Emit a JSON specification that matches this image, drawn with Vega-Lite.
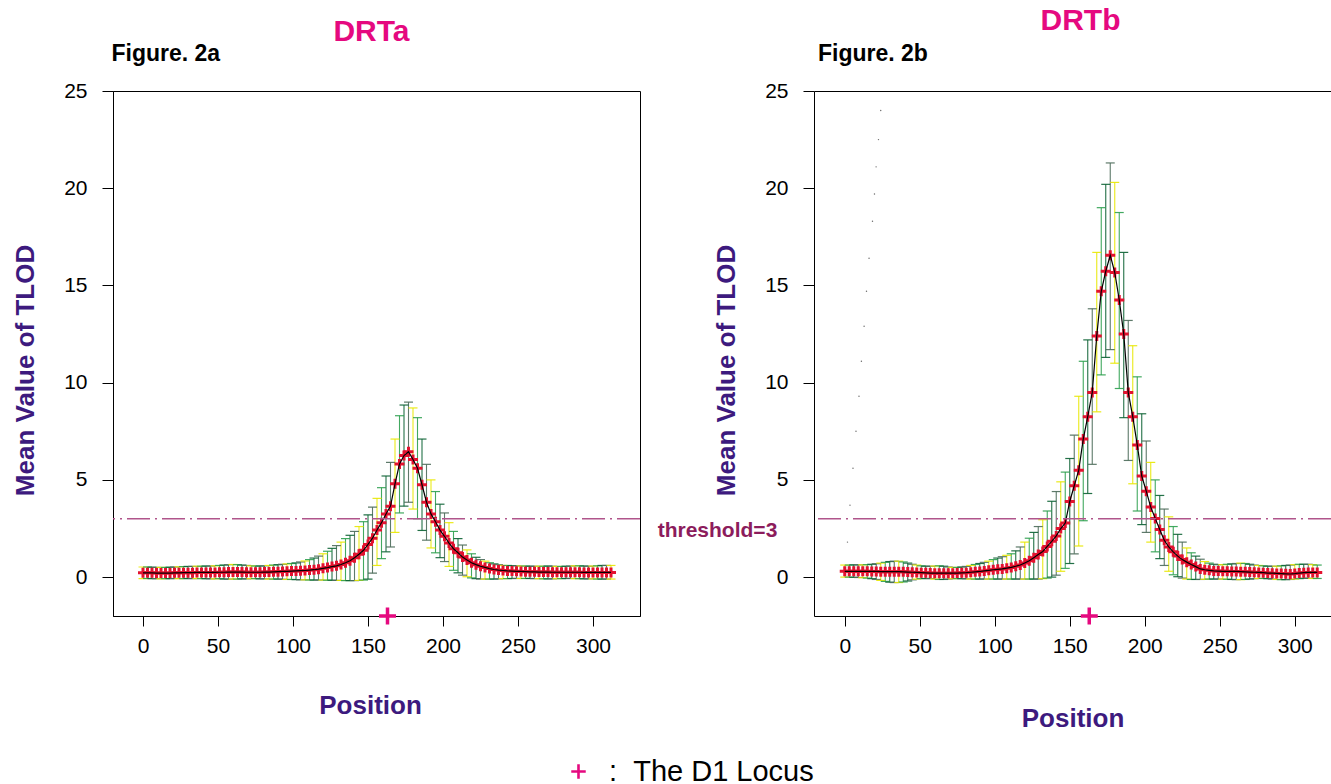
{
"$schema": "https://vega.github.io/schema/vega-lite/v6.json",
"background": "white",
"padding": {"left": 11, "top": 5, "right": 0, "bottom": 0},
"bounds": "flush",
"spacing": 174,
"config": {
  "font": "Liberation Sans",
  "view": {"stroke": null},
  "axis": {"grid": false, "domainColor": "#000", "tickColor": "#000", "labelColor": "#000", "labelFontSize": 21, "labelFont": "Liberation Sans", "titleFont": "Liberation Sans", "titleFontSize": 26, "titleFontWeight": "bold", "titleColor": "#3d1a7e", "domainWidth": 1, "tickWidth": 1, "labelFlush": false, "labelOverlap": false}
},
"resolve": {"scale": {"x": "independent", "y": "independent", "color": "shared", "stroke": "shared", "fill": "shared"}, "legend": {"color": "shared"}},
"datasets": {
"drta": [
{"p":0,"m":0.22,"lo":-0.08,"hi":0.52,"s":"a"},{"p":3,"m":0.22,"lo":-0.07,"hi":0.52,"s":"b"},{"p":6,"m":0.22,"lo":-0.08,"hi":0.51,"s":"c"},{"p":9,"m":0.21,"lo":-0.08,"hi":0.5,"s":"d"},
{"p":12,"m":0.21,"lo":-0.09,"hi":0.5,"s":"a"},{"p":15,"m":0.21,"lo":-0.08,"hi":0.5,"s":"b"},{"p":18,"m":0.21,"lo":-0.08,"hi":0.51,"s":"c"},{"p":21,"m":0.22,"lo":-0.07,"hi":0.52,"s":"d"},
{"p":24,"m":0.22,"lo":-0.08,"hi":0.53,"s":"a"},{"p":27,"m":0.23,"lo":-0.08,"hi":0.54,"s":"b"},{"p":30,"m":0.23,"lo":-0.07,"hi":0.55,"s":"c"},{"p":33,"m":0.23,"lo":-0.08,"hi":0.55,"s":"d"},
{"p":36,"m":0.24,"lo":-0.07,"hi":0.56,"s":"a"},{"p":39,"m":0.24,"lo":-0.08,"hi":0.56,"s":"b"},{"p":42,"m":0.24,"lo":-0.08,"hi":0.57,"s":"c"},{"p":45,"m":0.24,"lo":-0.09,"hi":0.57,"s":"d"},
{"p":48,"m":0.24,"lo":-0.09,"hi":0.58,"s":"a"},{"p":51,"m":0.25,"lo":-0.08,"hi":0.6,"s":"b"},{"p":54,"m":0.25,"lo":-0.1,"hi":0.62,"s":"c"},{"p":57,"m":0.26,"lo":-0.1,"hi":0.64,"s":"d"},
{"p":60,"m":0.26,"lo":-0.1,"hi":0.65,"s":"a"},{"p":63,"m":0.26,"lo":-0.1,"hi":0.64,"s":"b"},{"p":66,"m":0.26,"lo":-0.09,"hi":0.62,"s":"c"},{"p":69,"m":0.25,"lo":-0.09,"hi":0.6,"s":"d"},
{"p":72,"m":0.25,"lo":-0.08,"hi":0.58,"s":"a"},{"p":75,"m":0.25,"lo":-0.08,"hi":0.57,"s":"b"},{"p":78,"m":0.25,"lo":-0.09,"hi":0.57,"s":"c"},{"p":81,"m":0.26,"lo":-0.09,"hi":0.58,"s":"d"},
{"p":84,"m":0.26,"lo":-0.1,"hi":0.6,"s":"a"},{"p":87,"m":0.27,"lo":-0.1,"hi":0.62,"s":"b"},{"p":90,"m":0.28,"lo":-0.1,"hi":0.64,"s":"c"},{"p":93,"m":0.29,"lo":-0.11,"hi":0.66,"s":"d"},
{"p":96,"m":0.3,"lo":-0.12,"hi":0.68,"s":"a"},{"p":99,"m":0.31,"lo":-0.12,"hi":0.7,"s":"b"},{"p":102,"m":0.32,"lo":-0.13,"hi":0.73,"s":"c"},{"p":105,"m":0.33,"lo":-0.14,"hi":0.78,"s":"d"},
{"p":108,"m":0.34,"lo":-0.14,"hi":0.83,"s":"a"},{"p":111,"m":0.36,"lo":-0.15,"hi":0.9,"s":"b"},{"p":114,"m":0.38,"lo":-0.15,"hi":0.98,"s":"c"},{"p":117,"m":0.41,"lo":-0.15,"hi":1.08,"s":"d"},
{"p":120,"m":0.45,"lo":-0.15,"hi":1.2,"s":"a"},{"p":123,"m":0.49,"lo":-0.16,"hi":1.33,"s":"b"},{"p":126,"m":0.54,"lo":-0.16,"hi":1.48,"s":"c"},{"p":129,"m":0.58,"lo":-0.17,"hi":1.62,"s":"d"},
{"p":132,"m":0.65,"lo":-0.17,"hi":1.8,"s":"a"},{"p":135,"m":0.74,"lo":-0.18,"hi":1.98,"s":"b"},{"p":138,"m":0.84,"lo":-0.18,"hi":2.15,"s":"c"},{"p":141,"m":1.0,"lo":-0.18,"hi":2.35,"s":"d"},
{"p":144,"m":1.18,"lo":-0.17,"hi":2.6,"s":"a"},{"p":147,"m":1.38,"lo":-0.15,"hi":2.85,"s":"b"},{"p":150,"m":1.68,"lo":-0.1,"hi":3.2,"s":"c"},{"p":153,"m":2.0,"lo":0.2,"hi":3.6,"s":"d"},
{"p":156,"m":2.42,"lo":0.6,"hi":4.05,"s":"a"},{"p":159,"m":2.8,"lo":0.95,"hi":4.6,"s":"b"},{"p":162,"m":3.25,"lo":1.3,"hi":5.2,"s":"c"},{"p":165,"m":3.65,"lo":1.55,"hi":5.9,"s":"d"},
{"p":168,"m":4.8,"lo":2.3,"hi":7.1,"s":"a"},{"p":171,"m":5.82,"lo":3.3,"hi":8.3,"s":"b"},{"p":174,"m":6.25,"lo":3.65,"hi":8.85,"s":"c"},{"p":177,"m":6.45,"lo":3.85,"hi":9.0,"s":"d"},
{"p":180,"m":6.05,"lo":3.5,"hi":8.7,"s":"a"},{"p":183,"m":5.6,"lo":3.0,"hi":8.2,"s":"b"},{"p":186,"m":4.75,"lo":2.4,"hi":7.1,"s":"c"},{"p":189,"m":3.85,"lo":1.9,"hi":5.8,"s":"d"},
{"p":192,"m":3.25,"lo":1.5,"hi":5.0,"s":"a"},{"p":195,"m":2.85,"lo":1.25,"hi":4.4,"s":"b"},{"p":198,"m":2.42,"lo":1.0,"hi":3.75,"s":"c"},{"p":201,"m":2.1,"lo":0.8,"hi":3.3,"s":"d"},
{"p":204,"m":1.75,"lo":0.55,"hi":2.8,"s":"a"},{"p":207,"m":1.46,"lo":0.35,"hi":2.35,"s":"b"},{"p":210,"m":1.25,"lo":0.22,"hi":1.98,"s":"c"},{"p":213,"m":1.03,"lo":0.1,"hi":1.65,"s":"d"},
{"p":216,"m":0.88,"lo":0.02,"hi":1.4,"s":"a"},{"p":219,"m":0.74,"lo":-0.04,"hi":1.2,"s":"b"},{"p":222,"m":0.64,"lo":-0.08,"hi":1.02,"s":"c"},{"p":225,"m":0.56,"lo":-0.1,"hi":0.9,"s":"d"},
{"p":228,"m":0.5,"lo":-0.1,"hi":0.82,"s":"a"},{"p":231,"m":0.44,"lo":-0.1,"hi":0.74,"s":"b"},{"p":234,"m":0.39,"lo":-0.1,"hi":0.68,"s":"c"},{"p":237,"m":0.36,"lo":-0.09,"hi":0.64,"s":"d"},
{"p":240,"m":0.34,"lo":-0.08,"hi":0.6,"s":"a"},{"p":243,"m":0.32,"lo":-0.08,"hi":0.6,"s":"b"},{"p":246,"m":0.31,"lo":-0.07,"hi":0.59,"s":"c"},{"p":249,"m":0.3,"lo":-0.07,"hi":0.58,"s":"d"},
{"p":252,"m":0.29,"lo":-0.07,"hi":0.57,"s":"a"},{"p":255,"m":0.28,"lo":-0.07,"hi":0.57,"s":"b"},{"p":258,"m":0.27,"lo":-0.07,"hi":0.56,"s":"c"},{"p":261,"m":0.27,"lo":-0.08,"hi":0.56,"s":"d"},
{"p":264,"m":0.26,"lo":-0.08,"hi":0.56,"s":"a"},{"p":267,"m":0.26,"lo":-0.09,"hi":0.56,"s":"b"},{"p":270,"m":0.26,"lo":-0.09,"hi":0.57,"s":"c"},{"p":273,"m":0.25,"lo":-0.09,"hi":0.56,"s":"d"},
{"p":276,"m":0.25,"lo":-0.08,"hi":0.55,"s":"a"},{"p":279,"m":0.25,"lo":-0.08,"hi":0.55,"s":"b"},{"p":282,"m":0.25,"lo":-0.07,"hi":0.56,"s":"c"},{"p":285,"m":0.25,"lo":-0.07,"hi":0.57,"s":"d"},
{"p":288,"m":0.25,"lo":-0.08,"hi":0.58,"s":"a"},{"p":291,"m":0.25,"lo":-0.08,"hi":0.58,"s":"b"},{"p":294,"m":0.24,"lo":-0.09,"hi":0.57,"s":"c"},{"p":297,"m":0.24,"lo":-0.09,"hi":0.56,"s":"d"},
{"p":300,"m":0.24,"lo":-0.09,"hi":0.57,"s":"a"},{"p":303,"m":0.24,"lo":-0.1,"hi":0.58,"s":"b"},{"p":306,"m":0.24,"lo":-0.1,"hi":0.6,"s":"c"},{"p":309,"m":0.24,"lo":-0.1,"hi":0.6,"s":"d"},
{"p":312,"m":0.24,"lo":-0.1,"hi":0.6,"s":"a"}
],
"drtb": [
{"p":0,"m":0.3,"lo":0.0,"hi":0.62,"s":"a"},{"p":3,"m":0.3,"lo":0.0,"hi":0.62,"s":"b"},{"p":6,"m":0.3,"lo":-0.01,"hi":0.63,"s":"c"},{"p":9,"m":0.3,"lo":-0.02,"hi":0.63,"s":"d"},
{"p":12,"m":0.3,"lo":-0.03,"hi":0.63,"s":"a"},{"p":15,"m":0.3,"lo":-0.05,"hi":0.64,"s":"b"},{"p":18,"m":0.29,"lo":-0.08,"hi":0.66,"s":"c"},{"p":21,"m":0.29,"lo":-0.12,"hi":0.69,"s":"d"},
{"p":24,"m":0.28,"lo":-0.17,"hi":0.72,"s":"a"},{"p":27,"m":0.28,"lo":-0.22,"hi":0.76,"s":"b"},{"p":30,"m":0.28,"lo":-0.26,"hi":0.8,"s":"c"},{"p":33,"m":0.28,"lo":-0.28,"hi":0.82,"s":"d"},
{"p":36,"m":0.28,"lo":-0.28,"hi":0.82,"s":"a"},{"p":39,"m":0.27,"lo":-0.25,"hi":0.78,"s":"b"},{"p":42,"m":0.26,"lo":-0.2,"hi":0.72,"s":"c"},{"p":45,"m":0.25,"lo":-0.14,"hi":0.66,"s":"d"},
{"p":48,"m":0.24,"lo":-0.1,"hi":0.62,"s":"a"},{"p":51,"m":0.23,"lo":-0.08,"hi":0.58,"s":"b"},{"p":54,"m":0.22,"lo":-0.07,"hi":0.56,"s":"c"},{"p":57,"m":0.21,"lo":-0.08,"hi":0.56,"s":"d"},
{"p":60,"m":0.2,"lo":-0.1,"hi":0.57,"s":"a"},{"p":63,"m":0.2,"lo":-0.12,"hi":0.58,"s":"b"},{"p":66,"m":0.2,"lo":-0.12,"hi":0.56,"s":"c"},{"p":69,"m":0.2,"lo":-0.1,"hi":0.52,"s":"d"},
{"p":72,"m":0.2,"lo":-0.08,"hi":0.5,"s":"a"},{"p":75,"m":0.21,"lo":-0.08,"hi":0.5,"s":"b"},{"p":78,"m":0.22,"lo":-0.08,"hi":0.52,"s":"c"},{"p":81,"m":0.23,"lo":-0.09,"hi":0.55,"s":"d"},
{"p":84,"m":0.25,"lo":-0.1,"hi":0.6,"s":"a"},{"p":87,"m":0.27,"lo":-0.1,"hi":0.65,"s":"b"},{"p":90,"m":0.29,"lo":-0.1,"hi":0.7,"s":"c"},{"p":93,"m":0.32,"lo":-0.1,"hi":0.76,"s":"d"},
{"p":96,"m":0.35,"lo":-0.1,"hi":0.82,"s":"a"},{"p":99,"m":0.38,"lo":-0.1,"hi":0.9,"s":"b"},{"p":102,"m":0.4,"lo":-0.1,"hi":0.98,"s":"c"},{"p":105,"m":0.42,"lo":-0.1,"hi":1.05,"s":"d"},
{"p":108,"m":0.46,"lo":-0.1,"hi":1.12,"s":"a"},{"p":111,"m":0.5,"lo":-0.1,"hi":1.2,"s":"b"},{"p":114,"m":0.56,"lo":-0.1,"hi":1.35,"s":"c"},{"p":117,"m":0.62,"lo":-0.1,"hi":1.55,"s":"d"},
{"p":120,"m":0.73,"lo":-0.1,"hi":1.8,"s":"a"},{"p":123,"m":0.84,"lo":-0.1,"hi":2.0,"s":"b"},{"p":126,"m":1.0,"lo":-0.1,"hi":2.3,"s":"c"},{"p":129,"m":1.16,"lo":-0.1,"hi":2.6,"s":"d"},
{"p":132,"m":1.32,"lo":-0.08,"hi":2.95,"s":"a"},{"p":135,"m":1.58,"lo":-0.05,"hi":3.4,"s":"b"},{"p":138,"m":1.84,"lo":0.0,"hi":3.9,"s":"c"},{"p":141,"m":2.12,"lo":0.1,"hi":4.4,"s":"d"},
{"p":144,"m":2.5,"lo":0.3,"hi":4.9,"s":"a"},{"p":147,"m":2.78,"lo":0.45,"hi":5.4,"s":"b"},{"p":150,"m":3.89,"lo":0.7,"hi":6.1,"s":"c"},{"p":153,"m":4.7,"lo":1.2,"hi":7.3,"s":"d"},
{"p":156,"m":5.5,"lo":1.6,"hi":9.3,"s":"a"},{"p":159,"m":7.1,"lo":2.9,"hi":11.1,"s":"b"},{"p":162,"m":8.25,"lo":4.3,"hi":12.2,"s":"c"},{"p":165,"m":9.5,"lo":5.8,"hi":13.8,"s":"d"},
{"p":168,"m":12.4,"lo":8.5,"hi":16.7,"s":"a"},{"p":171,"m":14.7,"lo":10.4,"hi":19.0,"s":"b"},{"p":174,"m":15.73,"lo":11.3,"hi":20.2,"s":"c"},{"p":177,"m":16.55,"lo":11.7,"hi":21.3,"s":"d"},
{"p":180,"m":15.67,"lo":11.0,"hi":20.3,"s":"a"},{"p":183,"m":14.25,"lo":9.7,"hi":18.75,"s":"b"},{"p":186,"m":12.5,"lo":8.2,"hi":16.7,"s":"c"},{"p":189,"m":9.5,"lo":6.0,"hi":13.2,"s":"d"},
{"p":192,"m":8.25,"lo":4.8,"hi":11.9,"s":"a"},{"p":195,"m":6.8,"lo":3.4,"hi":10.3,"s":"b"},{"p":198,"m":5.2,"lo":2.7,"hi":8.4,"s":"c"},{"p":201,"m":4.42,"lo":2.3,"hi":7.0,"s":"d"},
{"p":204,"m":3.6,"lo":1.8,"hi":5.9,"s":"a"},{"p":207,"m":3.02,"lo":1.3,"hi":5.0,"s":"b"},{"p":210,"m":2.45,"lo":0.95,"hi":4.2,"s":"c"},{"p":213,"m":1.9,"lo":0.6,"hi":3.5,"s":"d"},
{"p":216,"m":1.55,"lo":0.3,"hi":3.1,"s":"a"},{"p":219,"m":1.3,"lo":0.12,"hi":2.6,"s":"b"},{"p":222,"m":1.08,"lo":0.02,"hi":2.2,"s":"c"},{"p":225,"m":0.9,"lo":-0.05,"hi":1.8,"s":"d"},
{"p":228,"m":0.77,"lo":-0.1,"hi":1.5,"s":"a"},{"p":231,"m":0.65,"lo":-0.12,"hi":1.25,"s":"b"},{"p":234,"m":0.54,"lo":-0.12,"hi":1.08,"s":"c"},{"p":237,"m":0.42,"lo":-0.12,"hi":0.92,"s":"d"},
{"p":240,"m":0.38,"lo":-0.11,"hi":0.8,"s":"a"},{"p":243,"m":0.35,"lo":-0.1,"hi":0.72,"s":"b"},{"p":246,"m":0.32,"lo":-0.1,"hi":0.66,"s":"c"},{"p":249,"m":0.31,"lo":-0.1,"hi":0.64,"s":"d"},
{"p":252,"m":0.3,"lo":-0.1,"hi":0.64,"s":"a"},{"p":255,"m":0.3,"lo":-0.11,"hi":0.66,"s":"b"},{"p":258,"m":0.29,"lo":-0.12,"hi":0.68,"s":"c"},{"p":261,"m":0.29,"lo":-0.13,"hi":0.7,"s":"d"},
{"p":264,"m":0.28,"lo":-0.13,"hi":0.72,"s":"a"},{"p":267,"m":0.27,"lo":-0.12,"hi":0.7,"s":"b"},{"p":270,"m":0.26,"lo":-0.1,"hi":0.66,"s":"c"},{"p":273,"m":0.25,"lo":-0.08,"hi":0.62,"s":"d"},
{"p":276,"m":0.24,"lo":-0.07,"hi":0.6,"s":"a"},{"p":279,"m":0.23,"lo":-0.07,"hi":0.58,"s":"b"},{"p":282,"m":0.21,"lo":-0.08,"hi":0.56,"s":"c"},{"p":285,"m":0.2,"lo":-0.1,"hi":0.56,"s":"d"},
{"p":288,"m":0.19,"lo":-0.12,"hi":0.56,"s":"a"},{"p":291,"m":0.18,"lo":-0.13,"hi":0.58,"s":"b"},{"p":294,"m":0.17,"lo":-0.13,"hi":0.6,"s":"c"},{"p":297,"m":0.16,"lo":-0.12,"hi":0.62,"s":"d"},
{"p":300,"m":0.18,"lo":-0.1,"hi":0.64,"s":"a"},{"p":303,"m":0.21,"lo":-0.08,"hi":0.66,"s":"b"},{"p":306,"m":0.23,"lo":-0.06,"hi":0.66,"s":"c"},{"p":309,"m":0.24,"lo":-0.06,"hi":0.66,"s":"d"},
{"p":312,"m":0.24,"lo":-0.07,"hi":0.64,"s":"a"},{"p":315,"m":0.24,"lo":-0.07,"hi":0.62,"s":"b"}
],
"stray": [
{"p":1.8,"v":1.8},{"p":3.5,"v":3.7},{"p":5.5,"v":5.6},{"p":7.5,"v":7.5},{"p":9.5,"v":9.3},{"p":11.1,"v":11.1},{"p":12.9,"v":12.9},
{"p":14.5,"v":14.7},{"p":16.2,"v":16.4},{"p":18.5,"v":18.3},{"p":19.8,"v":19.7},{"p":20.9,"v":21.1},{"p":22.5,"v":22.5},{"p":24.0,"v":24.0}
],
"thr": [{"t": 3}],
"thrlabel": [{"label": "threshold=3", "p": 383, "v": 2.36}],
"locus": [{"p": 163, "v": -2, "marker": "The D1 Locus"}]
},
"hconcat": [
{
 "width": 527, "height": 525,
 "view": {"stroke": "#000", "strokeWidth": 1},
 "title": {"text": "DRTa", "color": "#e5097f", "fontSize": 30, "fontWeight": "bold", "font": "Liberation Sans", "anchor": "middle", "offset": -5, "dx": -5},
 "resolve": {"axis": {"x": "independent", "y": "independent"}},
 "layer": [
  {"data": {"name": "drta"}, "mark": {"type": "rule", "strokeWidth": 1.1, "opacity": 0.9},
   "encoding": {
    "x": {"field": "p", "type": "quantitative", "scale": {"domain": [-20, 331.33], "nice": false, "zero": false},
          "axis": {"orient": "bottom", "values": [0,50,100,150,200,250,300], "title": "Position", "tickSize": 10, "labelPadding": 9, "minExtent": 40, "maxExtent": 40, "titlePadding": 36, "titleX": 257}},
    "y": {"field": "lo", "type": "quantitative", "scale": {"domain": [-2, 25], "nice": false, "zero": false},
          "axis": {"orient": "left", "values": [0,5,10,15,20,25], "title": "Mean Value of TLOD", "tickSize": 11, "labelPadding": 15, "minExtent": 49, "maxExtent": 49, "titlePadding": 26, "titleY": 279}},
    "y2": {"field": "hi"},
    "stroke": {"field": "s", "type": "nominal", "scale": {"domain": ["a","b","c","d"], "range": ["#e8e800","#2ea04f","#0b6233","#4d6b5a"]}, "legend": null}
   }},
  {"data": {"name": "drta"}, "mark": {"type": "tick", "orient": "horizontal", "thickness": 1.2, "opacity": 0.9},
   "encoding": {
    "x": {"field": "p", "type": "quantitative", "scale": {"domain": [-20, 331.33], "nice": false, "zero": false}, "axis": null},
    "y": {"field": "hi", "type": "quantitative", "scale": {"domain": [-2, 25], "nice": false, "zero": false}, "axis": null},
    "size": {"value": 9},
    "fill": {"field": "s", "type": "nominal", "scale": {"domain": ["a","b","c","d"], "range": ["#e8e800","#2ea04f","#0b6233","#4d6b5a"]}, "legend": null}
   }},
  {"data": {"name": "drta"}, "mark": {"type": "tick", "orient": "horizontal", "thickness": 1.2, "opacity": 0.9},
   "encoding": {
    "x": {"field": "p", "type": "quantitative", "scale": {"domain": [-20, 331.33], "nice": false, "zero": false}, "axis": null},
    "y": {"field": "lo", "type": "quantitative", "scale": {"domain": [-2, 25], "nice": false, "zero": false}, "axis": null},
    "size": {"value": 9},
    "fill": {"field": "s", "type": "nominal", "scale": {"domain": ["a","b","c","d"], "range": ["#e8e800","#2ea04f","#0b6233","#4d6b5a"]}, "legend": null}
   }},
  {"data": {"name": "drta"}, "mark": {"type": "point", "shape": "M-1,0L1,0M0,-1L0,1", "filled": false, "size": 100, "strokeWidth": 3, "color": "#e3122f", "opacity": 1},
   "encoding": {
    "x": {"field": "p", "type": "quantitative", "scale": {"domain": [-20, 331.33], "nice": false, "zero": false}, "axis": null},
    "y": {"field": "m", "type": "quantitative", "scale": {"domain": [-2, 25], "nice": false, "zero": false}, "axis": null}
   }},
  {"data": {"name": "drta"}, "mark": {"type": "line", "color": "#000", "strokeWidth": 1.2},
   "encoding": {
    "x": {"field": "p", "type": "quantitative", "scale": {"domain": [-20, 331.33], "nice": false, "zero": false}, "axis": null},
    "y": {"field": "m", "type": "quantitative", "scale": {"domain": [-2, 25], "nice": false, "zero": false}, "axis": null}
   }},
  {"data": {"name": "thr"}, "mark": {"type": "rule", "color": "#b0558b", "strokeWidth": 1.4, "strokeDash": [23, 5, 2, 5]},
   "encoding": {
    "y": {"field": "t", "type": "quantitative", "scale": {"domain": [-2, 25], "nice": false, "zero": false}, "axis": null}
   }},
  {"data": {"name": "thrlabel"}, "mark": {"type": "text", "fontSize": 21, "fontWeight": "bold", "color": "#8c1c5c", "align": "center", "baseline": "middle", "font": "Liberation Sans"},
   "encoding": {
    "x": {"field": "p", "type": "quantitative", "scale": {"domain": [-20, 331.33], "nice": false, "zero": false}, "axis": null},
    "y": {"field": "v", "type": "quantitative", "scale": {"domain": [-2, 25], "nice": false, "zero": false}, "axis": null},
    "text": {"field": "label"}
   }},
  {"data": {"name": "locus"}, "mark": {"type": "point", "shape": "M-1,0L1,0M0,-1L0,1", "filled": false, "size": 289, "strokeWidth": 3.5, "opacity": 1},
   "encoding": {
    "x": {"field": "p", "type": "quantitative", "scale": {"domain": [-20, 331.33], "nice": false, "zero": false},
          "axis": {"orient": "top", "labels": false, "ticks": false, "domain": false, "title": "Figure. 2a", "titleFontSize": 23, "titleColor": "#000", "titleAlign": "left", "titleX": -2, "titlePadding": 26, "minExtent": 0, "maxExtent": 0}},
    "y": {"field": "v", "type": "quantitative", "scale": {"domain": [-2, 25], "nice": false, "zero": false}, "axis": null},
    "color": {"field": "marker", "type": "nominal", "scale": {"domain": ["The D1 Locus"], "range": ["#e5097f"]},
              "legend": {"orient": "none", "legendX": 451, "legendY": 666, "title": null, "symbolType": "M-1,0L1,0M0,-1L0,1", "symbolSize": 210, "symbolStrokeWidth": 2.6, "labelFontSize": 29, "labelColor": "#000", "labelFont": "Liberation Sans", "labelOffset": 16, "labelLimit": 500, "labelExpr": "':\u00a0\u00a0' + datum.label"}}
   }}
 ]
},
{
 "width": 517, "height": 525,
 "title": {"text": "DRTb", "color": "#e5097f", "fontSize": 30, "fontWeight": "bold", "font": "Liberation Sans", "anchor": "middle", "offset": 6.5, "dx": 8},
 "resolve": {"axis": {"x": "independent", "y": "independent"}},
 "layer": [
  {"data": {"name": "drtb"}, "mark": {"type": "rule", "strokeWidth": 1.1, "opacity": 0.9},
   "encoding": {
    "x": {"field": "p", "type": "quantitative", "scale": {"domain": [-20.5, 324.17], "nice": false, "zero": false},
          "axis": {"orient": "bottom", "values": [0,50,100,150,200,250,300], "title": "Position", "tickSize": 10, "labelPadding": 9, "minExtent": 40, "maxExtent": 40, "titlePadding": 49}},
    "y": {"field": "lo", "type": "quantitative", "scale": {"domain": [-2, 25], "nice": false, "zero": false},
          "axis": {"orient": "left", "values": [0,5,10,15,20,25], "title": "Mean Value of TLOD", "tickSize": 11, "labelPadding": 15, "minExtent": 49, "maxExtent": 49, "titlePadding": 26, "titleY": 279}},
    "y2": {"field": "hi"},
    "stroke": {"field": "s", "type": "nominal", "scale": {"domain": ["a","b","c","d"], "range": ["#e8e800","#2ea04f","#0b6233","#4d6b5a"]}, "legend": null}
   }},
  {"data": {"name": "drtb"}, "mark": {"type": "tick", "orient": "horizontal", "thickness": 1.2, "opacity": 0.9},
   "encoding": {
    "x": {"field": "p", "type": "quantitative", "scale": {"domain": [-20.5, 324.17], "nice": false, "zero": false}, "axis": null},
    "y": {"field": "hi", "type": "quantitative", "scale": {"domain": [-2, 25], "nice": false, "zero": false}, "axis": null},
    "size": {"value": 9},
    "fill": {"field": "s", "type": "nominal", "scale": {"domain": ["a","b","c","d"], "range": ["#e8e800","#2ea04f","#0b6233","#4d6b5a"]}, "legend": null}
   }},
  {"data": {"name": "drtb"}, "mark": {"type": "tick", "orient": "horizontal", "thickness": 1.2, "opacity": 0.9},
   "encoding": {
    "x": {"field": "p", "type": "quantitative", "scale": {"domain": [-20.5, 324.17], "nice": false, "zero": false}, "axis": null},
    "y": {"field": "lo", "type": "quantitative", "scale": {"domain": [-2, 25], "nice": false, "zero": false}, "axis": null},
    "size": {"value": 9},
    "fill": {"field": "s", "type": "nominal", "scale": {"domain": ["a","b","c","d"], "range": ["#e8e800","#2ea04f","#0b6233","#4d6b5a"]}, "legend": null}
   }},
  {"data": {"name": "drtb"}, "mark": {"type": "point", "shape": "M-1,0L1,0M0,-1L0,1", "filled": false, "size": 100, "strokeWidth": 3, "color": "#e3122f", "opacity": 1},
   "encoding": {
    "x": {"field": "p", "type": "quantitative", "scale": {"domain": [-20.5, 324.17], "nice": false, "zero": false}, "axis": null},
    "y": {"field": "m", "type": "quantitative", "scale": {"domain": [-2, 25], "nice": false, "zero": false}, "axis": null}
   }},
  {"data": {"name": "drtb"}, "mark": {"type": "line", "color": "#000", "strokeWidth": 1.2},
   "encoding": {
    "x": {"field": "p", "type": "quantitative", "scale": {"domain": [-20.5, 324.17], "nice": false, "zero": false}, "axis": null},
    "y": {"field": "m", "type": "quantitative", "scale": {"domain": [-2, 25], "nice": false, "zero": false}, "axis": null}
   }},
  {"data": {"name": "stray"}, "mark": {"type": "point", "filled": true, "size": 2, "color": "#444", "opacity": 0.8},
   "encoding": {
    "x": {"field": "p", "type": "quantitative", "scale": {"domain": [-20.5, 324.17], "nice": false, "zero": false}, "axis": null},
    "y": {"field": "v", "type": "quantitative", "scale": {"domain": [-2, 25], "nice": false, "zero": false}, "axis": null}
   }},
  {"data": {"name": "thr"}, "mark": {"type": "rule", "color": "#b0558b", "strokeWidth": 1.4, "strokeDash": [23, 5, 2, 5]},
   "encoding": {
    "y": {"field": "t", "type": "quantitative", "scale": {"domain": [-2, 25], "nice": false, "zero": false}, "axis": null}
   }},
  {"data": {"name": "locus"}, "mark": {"type": "point", "shape": "M-1,0L1,0M0,-1L0,1", "filled": false, "size": 289, "strokeWidth": 3.5, "opacity": 1},
   "encoding": {
    "x": {"field": "p", "type": "quantitative", "scale": {"domain": [-20.5, 324.17], "nice": false, "zero": false},
          "axis": {"orient": "top", "labels": false, "ticks": false, "domain": true, "title": "Figure. 2b", "titleFontSize": 23, "titleColor": "#000", "titleAlign": "left", "titleX": 3.5, "titlePadding": 26, "minExtent": 0, "maxExtent": 0}},
    "y": {"field": "v", "type": "quantitative", "scale": {"domain": [-2, 25], "nice": false, "zero": false}, "axis": null},
    "color": {"field": "marker", "type": "nominal", "scale": {"domain": ["The D1 Locus"], "range": ["#e5097f"]},
              "legend": {"orient": "none", "legendX": 451, "legendY": 666, "title": null, "symbolType": "M-1,0L1,0M0,-1L0,1", "symbolSize": 210, "symbolStrokeWidth": 2.6, "labelFontSize": 29, "labelColor": "#000", "labelFont": "Liberation Sans", "labelOffset": 16, "labelLimit": 500, "labelExpr": "':\u00a0\u00a0' + datum.label"}}
   }}
 ]
}
]
}
